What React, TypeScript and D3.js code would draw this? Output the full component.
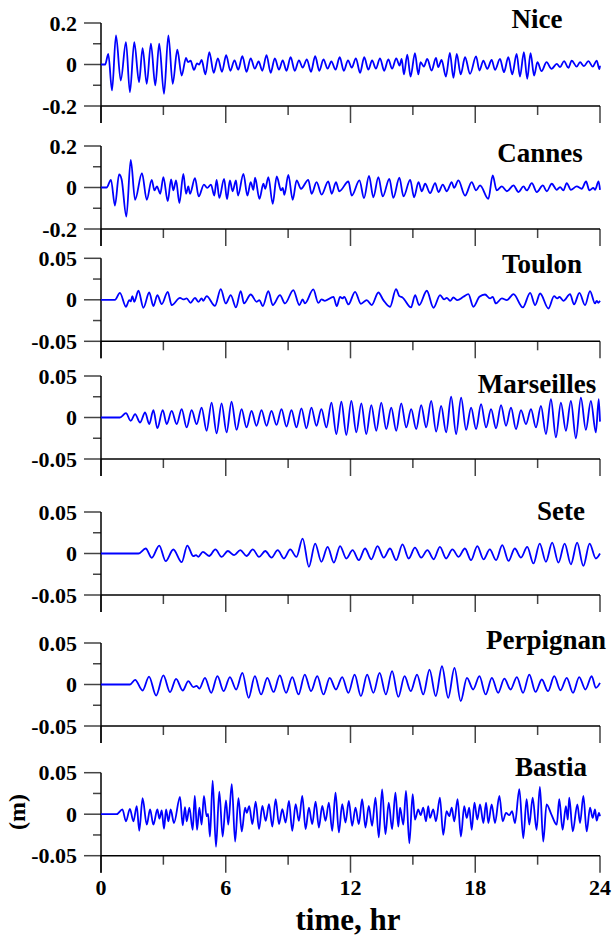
import React from 'react';
import * as d3 from 'd3';

type Pt = [number, number];

const stations = ['Nice', 'Cannes', 'Toulon', 'Marseilles', 'Sete', 'Perpignan', 'Bastia'];
const yLimits = [0.2, 0.2, 0.05, 0.05, 0.05, 0.05, 0.05];
const yTickLabels = [
  ['0.2', '0', '-0.2'],
  ['0.2', '0', '-0.2'],
  ['0.05', '0', '-0.05'],
  ['0.05', '0', '-0.05'],
  ['0.05', '0', '-0.05'],
  ['0.05', '0', '-0.05'],
  ['0.05', '0', '-0.05'],
];
const xMinorTicks = [3, 9, 15, 21];
const xMajorTicks = [0, 6, 12, 18, 24];
const xTickLabels = ['0', '6', '12', '18', '24'];

const niceData: Pt[] = [
  [0, 0], [0.2, 0], [0.35, 0.051], [0.53, -0.125], [0.72, 0.14], [0.95, -0.077], [1.2, 0.108], [1.39, -0.133],
  [1.6, 0.108], [1.83, -0.085], [2.0, 0.079], [2.2, -0.093], [2.4, 0.1], [2.61, -0.101], [2.8, 0.1], [3.03, -0.141],
  [3.24, 0.14], [3.45, -0.093], [3.67, 0.071], [3.88, -0.053], [4.09, 0.032], [4.18, 0.012], [4.31, 0.018], [4.47, -0.026],
  [4.62, 0.005], [4.72, 0.0], [4.84, 0.022], [5.02, -0.048], [5.21, 0.06],
  [5.42, -0.04], [5.62, 0.03], [5.82, -0.035], [6.02, 0.045], [6.22, -0.03], [6.42, 0.02], [6.6, -0.025], [6.8, 0.04],
  [7.0, -0.035], [7.2, 0.03], [7.4, -0.02], [7.58, 0.015], [7.76, -0.03], [7.96, 0.045], [8.16, -0.04], [8.36, 0.03],
  [8.56, -0.025], [8.74, 0.02], [8.92, -0.03], [9.12, 0.035], [9.32, -0.03], [9.52, 0.02], [9.7, -0.015], [9.9, 0.025],
  [10.1, -0.035], [10.3, 0.04], [10.5, -0.03], [10.7, 0.025], [10.9, -0.02], [11.08, 0.015], [11.28, -0.025], [11.48, 0.035],
  [11.68, -0.03], [11.88, 0.02], [12.06, -0.015], [12.26, 0.03], [12.46, -0.04], [12.66, 0.035], [12.86, -0.025], [13.04, 0.02],
  [13.22, -0.02], [13.42, 0.03], [13.62, -0.03], [13.82, 0.025], [14.0, -0.02], [14.2, 0.03], [14.36, -0.005],
  [14.46, 0.027], [14.57, -0.048], [14.73, 0.048], [14.89, -0.058], [15.1, 0.055], [15.26, -0.048], [15.37, 0.011], [15.53, -0.01],
  [15.69, 0.027], [15.9, -0.029], [16.11, 0.032], [16.22, -0.013], [16.38, 0.022], [16.59, -0.058], [16.78, 0.056], [16.95, -0.064],
  [17.11, 0.051], [17.3, -0.048], [17.51, 0.035], [17.75, -0.045], [18.04, 0.039], [18.2, -0.029], [18.39, 0.019], [18.58, -0.021],
  [18.79, 0.022], [18.95, -0.026], [19.19, 0.027], [19.38, -0.037], [19.59, 0.035], [19.78, -0.048], [19.99, 0.051], [20.15, -0.058],
  [20.34, 0.059], [20.5, -0.069], [20.66, 0.055], [20.83, -0.053], [20.99, 0.011], [21.19, -0.032], [21.43, 0.011], [21.67, -0.021],
  [21.92, 0.003], [22.08, -0.013], [22.27, 0.016], [22.48, -0.016], [22.64, 0.019], [22.88, -0.01], [23.04, 0.011], [23.23, -0.008],
  [23.44, 0.016], [23.65, -0.01], [23.84, 0.019], [23.97, -0.022], [24.0, -0.005],
];

const cannesData: Pt[] = [
  [0, 0], [0.27, 0], [0.48, 0.037], [0.67, -0.087], [0.87, 0.063], [0.99, 0.04], [1.22, -0.14], [1.43, 0.133],
  [1.64, -0.059], [1.97, 0.069], [2.2, -0.059], [2.44, 0.037], [2.57, -0.014], [2.69, 0.005], [2.85, -0.03], [3.0, 0.05],
  [3.21, -0.066], [3.37, 0.039], [3.48, -0.014], [3.61, 0.034], [3.77, -0.075], [3.96, 0.066], [4.09, -0.03], [4.2, 0.005],
  [4.28, -0.03], [4.52, 0.045], [4.7, -0.043], [4.95, 0.014], [5.11, -0.002], [5.29, 0.014], [5.45, -0.039], [5.56, 0.037],
  [5.69, -0.05], [5.92, 0.042], [6.06, -0.056], [6.2, 0.034], [6.33, -0.018], [6.49, 0.034], [6.59, -0.039], [6.85, 0.066],
  [7.04, -0.039], [7.2, 0.026], [7.33, -0.011], [7.41, 0.047], [7.62, -0.055], [7.81, 0.018], [7.9, -0.006], [8.05, 0.05],
  [8.26, -0.079], [8.45, 0.053], [8.66, -0.014], [8.74, -0.002], [8.82, -0.035], [9.01, 0.061], [9.22, -0.059], [9.41, 0.034],
  [9.62, -0.006], [9.97, 0.037], [10.13, -0.03], [10.37, 0.026], [10.61, -0.034], [10.93, 0.03], [11.1, -0.03], [11.3, 0.026],
  [11.46, -0.018], [11.9, 0.029], [12.06, -0.039], [12.43, 0.034], [12.65, -0.051], [12.89, 0.056], [13.1, -0.047], [13.34, 0.05],
  [13.55, -0.043], [13.87, 0.042], [14.06, -0.05], [14.35, 0.047], [14.55, -0.043], [14.87, 0.037], [15.06, -0.047], [15.27, 0.026],
  [15.43, -0.018], [15.59, 0.018], [15.83, -0.027], [16.07, 0.021], [16.23, -0.022], [16.44, 0.014], [16.63, -0.018], [16.87, 0.026],
  [16.98, -0.002], [17.19, 0.034], [17.51, -0.039], [17.83, 0.026], [18.04, -0.014], [18.23, 0.01], [18.63, -0.055], [18.84, 0.058],
  [19.03, -0.014], [19.28, 0.005], [19.52, -0.018], [19.84, 0.01], [20.08, -0.022], [20.32, 0.005], [20.48, -0.014], [20.72, 0.021],
  [20.96, -0.022], [21.25, 0.01], [21.44, -0.018], [21.68, 0.018], [21.92, -0.011], [22.08, 0.002], [22.24, -0.014], [22.4, 0.021],
  [22.6, -0.011], [22.88, 0.005], [23.12, -0.006], [23.33, 0.029], [23.49, -0.014], [23.68, -0.002], [23.76, -0.011], [23.93, 0.029],
  [24.0, -0.011],
];

const toulonData: Pt[] = [
  [0, 0], [0.67, 0], [0.91, 0.0084], [1.2, -0.0084], [1.36, -0.0004], [1.43, -0.002], [1.51, 0.0044], [1.6, -0.0024],
  [1.8, 0.0109], [2.04, -0.0096], [2.32, 0.0088], [2.52, -0.0076], [2.71, 0.0056], [2.92, -0.0052], [3.21, 0.0096], [3.4, -0.0064],
  [3.8, 0.0024], [3.96, 0.0004], [4.12, 0.0016], [4.31, -0.0036], [4.52, 0.0024], [4.68, -0.0024], [4.84, 0.0016], [4.92, -0.0012],
  [5.08, 0.0044], [5.48, -0.0072], [5.76, 0.0129], [6.0, -0.0044], [6.24, 0.0056], [6.49, -0.0092], [6.72, 0.0105], [6.88, -0.0044],
  [7.2, 0.0064], [7.49, -0.0024], [7.62, -0.0004], [7.78, -0.0076], [8.05, 0.0105], [8.26, -0.0064], [8.61, 0.0056], [8.85, -0.0044],
  [9.25, 0.0117], [9.54, -0.0064], [9.7, 0.0004], [9.81, -0.0044], [10.21, 0.0125], [10.45, -0.0036], [10.61, 0.0004], [10.77, -0.0012],
  [11.18, 0.0036], [11.34, -0.0076], [11.5, 0.0036], [11.61, 0.0016], [11.7, 0.0036], [11.9, -0.0056], [12.22, 0.0096], [12.5, -0.0048],
  [12.78, -0.0004], [13.02, -0.0064], [13.34, 0.0088], [13.58, -0.0004], [13.9, -0.0084], [14.19, 0.0129], [14.35, 0.0044], [14.5, 0.0028],
  [14.91, -0.0092], [15.11, 0.0056], [15.3, -0.0064], [15.67, 0.0109], [15.99, -0.0096], [16.31, 0.0056], [16.5, 0.0004], [16.63, 0.0024],
  [16.79, -0.0012], [16.95, 0.0028], [17.14, -0.0004], [17.43, 0.0036], [17.67, 0.0068], [17.91, -0.0084], [18.2, 0.0036], [18.47, 0.0064],
  [18.71, 0.0016], [18.84, 0.0036], [18.99, -0.0044], [19.28, 0.0016], [19.52, -0.0004], [19.84, 0.0068], [20.29, -0.0092], [20.64, 0.0084],
  [20.88, -0.0064], [21.12, 0.0076], [21.52, -0.0105], [21.79, 0.0044], [21.95, 0.0016], [22.05, 0.0036], [22.24, -0.0012], [22.56, 0.0068],
  [22.75, -0.0056], [23.01, 0.0084], [23.28, -0.0064], [23.52, 0.0105], [23.76, -0.0044], [23.84, -0.0012], [23.92, -0.0036], [24.0, -0.0012],
];

const marseillesData: Pt[] = [
  [0, 0], [0.91, 0], [1.2, 0.0052], [1.43, -0.004], [1.64, 0.004], [1.88, -0.006], [2.12, 0.006], [2.32, -0.008],
  [2.52, 0.0088], [2.71, -0.0129], [2.97, 0.0088], [3.16, -0.008], [3.4, 0.008], [3.64, -0.008], [3.88, 0.01], [4.12, -0.012],
  [4.36, 0.0088], [4.6, -0.008], [4.84, 0.012], [5.08, -0.016], [5.32, 0.018], [5.56, -0.019], [5.8, 0.017], [6.04, -0.018],
  [6.28, 0.019], [6.52, -0.015], [6.76, 0.01], [7.0, -0.012], [7.24, 0.008], [7.48, -0.01], [7.72, 0.009], [7.96, -0.01],
  [8.2, 0.008], [8.44, -0.009], [8.68, 0.01], [8.92, -0.011], [9.16, 0.009], [9.4, -0.012], [9.64, 0.011], [9.88, -0.013],
  [10.12, 0.012], [10.36, -0.01], [10.6, 0.01], [10.84, -0.012], [11.08, 0.018], [11.32, -0.02], [11.56, 0.019], [11.8, -0.021],
  [12.04, 0.02], [12.28, -0.018], [12.52, 0.017], [12.76, -0.02], [13.0, 0.015], [13.24, -0.016], [13.48, 0.018], [13.72, -0.014],
  [13.96, 0.012], [14.2, -0.016], [14.44, 0.017], [14.68, -0.012], [14.92, 0.01], [15.16, -0.014], [15.4, 0.015], [15.64, -0.012],
  [15.88, 0.02], [16.12, -0.017], [16.36, 0.014], [16.6, -0.018], [16.84, 0.025], [17.08, -0.02], [17.32, 0.024], [17.56, -0.015],
  [17.8, 0.012], [18.04, -0.014], [18.28, 0.016], [18.52, -0.012], [18.76, 0.01], [19.0, -0.013], [19.24, 0.015], [19.48, -0.01],
  [19.72, 0.012], [19.96, -0.014], [20.2, 0.009], [20.44, -0.008], [20.68, 0.01], [20.92, -0.012], [21.16, 0.014], [21.4, -0.02],
  [21.64, 0.022], [21.88, -0.024], [22.12, 0.018], [22.36, -0.016], [22.6, 0.02], [22.84, -0.025], [23.08, 0.024], [23.32, -0.015],
  [23.56, 0.02], [23.8, -0.018], [23.94, 0.022], [24.0, -0.005],
];

const seteData: Pt[] = [
  [0, 0], [1.8, 0], [2.15, 0.006], [2.44, -0.0052], [2.8, 0.0096], [3.11, -0.0092], [3.48, 0.0048], [3.88, -0.0105],
  [4.15, 0.0096], [4.44, -0.0032], [4.57, -0.002], [4.68, -0.004], [4.9, 0.002], [5.2, -0.003], [5.5, 0.005], [5.8, -0.004],
  [6.1, 0.003], [6.4, -0.002], [6.7, 0.004], [7.0, -0.003], [7.3, 0.005], [7.6, -0.004], [7.9, 0.003], [8.2, -0.005],
  [8.5, 0.004], [8.8, -0.006], [9.1, 0.005], [9.4, -0.004], [9.7, 0.018], [10.0, -0.016], [10.3, 0.012], [10.6, -0.01],
  [10.9, 0.008], [11.2, -0.011], [11.5, 0.009], [11.8, -0.006], [12.1, 0.004], [12.4, -0.008], [12.7, 0.006], [13.0, -0.007],
  [13.3, 0.009], [13.6, -0.005], [13.9, 0.006], [14.2, -0.008], [14.5, 0.011], [14.8, -0.006], [15.1, 0.007], [15.4, -0.005],
  [15.7, 0.004], [16.0, -0.007], [16.3, 0.008], [16.6, -0.006], [16.9, 0.005], [17.2, -0.004], [17.5, 0.006], [17.8, -0.008],
  [18.1, 0.009], [18.4, -0.007], [18.7, 0.005], [19.0, -0.008], [19.3, 0.01], [19.6, -0.009], [19.9, 0.006], [20.2, -0.005],
  [20.5, 0.008], [20.8, -0.012], [21.1, 0.012], [21.4, -0.01], [21.7, 0.013], [22.0, -0.011], [22.3, 0.012], [22.6, -0.013],
  [22.9, 0.013], [23.2, -0.015], [23.5, 0.012], [23.8, -0.006], [24.0, 0.0],
];

const perpignanData: Pt[] = [
  [0, 0], [1.39, 0], [1.64, 0.0056], [2.0, -0.0072], [2.31, 0.0096], [2.65, -0.0133], [3.0, 0.0109], [3.32, -0.0092],
  [3.61, 0.0068], [3.93, -0.0072], [4.2, 0.004], [4.44, -0.0032], [4.6, -0.0016], [4.73, -0.005], [5.0, 0.008], [5.3, -0.01],
  [5.6, 0.01], [5.9, -0.008], [6.2, 0.009], [6.5, -0.006], [6.8, 0.014], [7.1, -0.016], [7.4, 0.01], [7.7, -0.012],
  [8.0, 0.008], [8.3, -0.009], [8.6, 0.011], [8.9, -0.01], [9.2, 0.009], [9.5, -0.012], [9.8, 0.012], [10.1, -0.008],
  [10.4, 0.01], [10.7, -0.012], [11.0, 0.008], [11.3, -0.006], [11.6, 0.009], [11.9, -0.01], [12.2, 0.012], [12.5, -0.014],
  [12.8, 0.012], [13.1, -0.01], [13.4, 0.014], [13.7, -0.012], [14.0, 0.016], [14.3, -0.015], [14.6, 0.01], [14.9, -0.008],
  [15.2, 0.012], [15.5, -0.012], [15.8, 0.018], [16.1, -0.014], [16.4, 0.022], [16.7, -0.016], [17.0, 0.02], [17.3, -0.02],
  [17.6, 0.008], [17.9, -0.006], [18.2, 0.01], [18.5, -0.012], [18.8, 0.008], [19.1, -0.01], [19.4, 0.007], [19.7, -0.006],
  [20.0, 0.009], [20.3, -0.01], [20.6, 0.012], [20.9, -0.009], [21.2, 0.006], [21.5, -0.008], [21.8, 0.01], [22.1, -0.007],
  [22.4, 0.008], [22.7, -0.01], [23.0, 0.009], [23.3, -0.006], [23.6, 0.01], [23.8, -0.004], [24.0, 0.002],
];

const bastiaData: Pt[] = [
  [0, 0], [0.75, 0], [1.03, 0.0057], [1.2, -0.0086], [1.39, 0.0065], [1.56, -0.0086], [1.72, 0.0098], [1.84, -0.02],
  [2.0, 0.0192], [2.2, -0.0126], [2.36, 0.0057], [2.52, -0.0126], [2.71, 0.0057], [2.81, -0.0053], [2.92, 0.0045], [3.03, -0.0175],
  [3.13, 0.0057], [3.24, -0.0086], [3.35, 0.0057], [3.51, -0.0106], [3.8, 0.0208], [3.93, -0.0135], [4.04, 0.0086], [4.12, -0.0086],
  [4.25, 0.0078], [4.41, -0.0188], [4.51, 0.022], [4.62, -0.0188], [4.73, 0.0078], [4.84, -0.0126], [4.95, 0.022], [5.08, -0.0024],
  [5.15, 0.0004], [5.24, -0.0269], [5.37, 0.0404], [5.53, -0.0392], [5.69, 0.0273], [5.85, -0.0269], [6.01, 0.0167], [6.12, -0.0126],
  [6.29, 0.0363], [6.45, -0.033], [6.61, 0.0192], [6.77, -0.0208], [6.93, 0.0078], [7.01, 0.0016], [7.13, 0.0098],
  [7.28, -0.012], [7.44, 0.015], [7.6, -0.018], [7.76, 0.01], [7.92, -0.008], [8.08, 0.012], [8.24, -0.015], [8.4, 0.018],
  [8.56, -0.012], [8.72, 0.006], [8.88, -0.01], [9.04, 0.016], [9.2, -0.02], [9.36, 0.012], [9.52, -0.008], [9.68, 0.022],
  [9.84, -0.018], [10.0, 0.008], [10.16, -0.012], [10.32, 0.015], [10.48, -0.016], [10.64, 0.01], [10.8, -0.008], [10.96, 0.014],
  [11.12, -0.02], [11.28, 0.026], [11.44, -0.022], [11.6, 0.012], [11.76, -0.01], [11.92, 0.016], [12.08, -0.014], [12.24, 0.008],
  [12.4, -0.012], [12.56, 0.018], [12.72, -0.016], [12.88, 0.01], [13.04, -0.014], [13.2, 0.02], [13.36, -0.028], [13.52, 0.03],
  [13.68, -0.024], [13.84, 0.014], [14.0, -0.018], [14.16, 0.026], [14.3, -0.015],
  [14.38, 0.0078], [14.54, -0.0126], [14.67, 0.0282], [14.83, -0.0351], [14.99, 0.0241], [15.1, -0.0065], [15.26, 0.0057], [15.37, -0.0012],
  [15.5, 0.0078], [15.63, -0.0086], [15.74, 0.0098], [15.82, -0.0045], [15.98, 0.0057], [16.11, -0.0086], [16.3, 0.02], [16.46, -0.0249],
  [16.62, 0.0037], [16.75, -0.0024], [16.87, 0.0078], [16.99, -0.0086], [17.15, 0.018], [17.31, -0.0269], [17.47, 0.0098], [17.59, -0.0045],
  [17.71, 0.0078], [17.83, -0.0188], [17.96, 0.0139], [18.1, -0.0065], [18.23, 0.0118], [18.39, -0.0106], [18.52, 0.0139], [18.63, -0.0106],
  [18.79, 0.0118], [18.95, -0.0106], [19.16, 0.022], [19.32, -0.0086], [19.48, 0.0016], [19.64, -0.0012], [19.77, 0.0037], [19.91, -0.0106],
  [20.12, 0.0302], [20.31, -0.029], [20.47, 0.018], [20.6, -0.0126], [20.76, 0.02], [20.95, -0.0188], [21.11, 0.033], [21.27, -0.033],
  [21.43, 0.0118], [21.65, 0.0005], [21.92, -0.0126], [22.04, 0.018], [22.2, -0.0188], [22.36, 0.0098], [22.45, -0.0065], [22.52, 0.02],
  [22.69, -0.0208], [22.91, 0.0118], [23.04, -0.0106], [23.2, 0.022], [23.36, -0.0208], [23.52, 0.0078], [23.65, -0.0045], [23.76, 0.0057],
  [23.84, -0.0078], [23.95, 0.0016], [24.0, -0.0024],
];

const seriesData: Pt[][] = [niceData, cannesData, toulonData, marseillesData, seteData, perpignanData, bastiaData];

// layout
const W = 613;
const H = 938;
const X0 = 101;
const X1 = 600;
const PANEL_H = 83;
const panelTops = [23, 146, 258.3, 376, 512, 643, 772.7];
const labelPos: [number, number][] = [
  [537, 28.3], [540, 161.7], [542, 273.3], [537, 393], [561, 520], [546, 649], [551, 776],
];
const FONT = "'Liberation Serif', 'Times New Roman', Times, serif";

export default function App() {
  const x = d3.scaleLinear().domain([0, 24]).range([X0, X1]);
  return (
    <svg
      width={W}
      height={H}
      style={{ position: 'absolute', left: 0, top: 0, background: '#fff' }}
      fontFamily={FONT}
      fontWeight="bold"
    >
      {seriesData.map((data, i) => {
        const lim = yLimits[i];
        const top = panelTops[i];
        const bottom = top + PANEL_H;
        const y = d3.scaleLinear().domain([-lim, lim]).range([bottom, top]);
        const line = d3
          .line<Pt>()
          .x((d) => x(d[0]))
          .y((d) => y(d[1]))
          .curve(d3.curveMonotoneX);
        const majorY = [lim, 0, -lim];
        const minorY = [lim / 2, -lim / 2];
        return (
          <g key={stations[i]}>
            {majorY.map((v, k) => (
              <g key={'ym' + k}>
                <line x1={X0 - 17} x2={X0} y1={y(v)} y2={y(v)} stroke="#444" strokeWidth={1.5} />
                <text x={77} y={y(v) + 7.5} fontSize={22} textAnchor="end" fill="#000">
                  {yTickLabels[i][k]}
                </text>
              </g>
            ))}
            {minorY.map((v, k) => (
              <line key={'yn' + k} x1={X0 - 8} x2={X0} y1={y(v)} y2={y(v)} stroke="#444" strokeWidth={1.5} />
            ))}
            {xMinorTicks.map((t) => (
              <line key={'xn' + t} x1={x(t)} x2={x(t)} y1={bottom} y2={bottom + 9} stroke="#444" strokeWidth={1.5} />
            ))}
            {xMajorTicks.map((t) => (
              <line key={'xm' + t} x1={x(t)} x2={x(t)} y1={bottom} y2={bottom + 17} stroke="#444" strokeWidth={1.5} />
            ))}
            <line x1={X0} x2={X0} y1={top} y2={bottom + 17} stroke="#000" strokeWidth={1.5} />
            <line x1={X0} x2={X1} y1={bottom} y2={bottom} stroke="#000" strokeWidth={1.5} />
            <path d={line(data) || ''} fill="none" stroke="#0000ff" strokeWidth={1.8} strokeLinejoin="round" />
            <text x={labelPos[i][0]} y={labelPos[i][1]} fontSize={27} textAnchor="middle" fill="#000">
              {stations[i]}
            </text>
          </g>
        );
      })}
      {xMajorTicks.map((t, k) => (
        <text key={'xl' + t} x={x(t)} y={895} fontSize={22} textAnchor="middle" fill="#000">
          {xTickLabels[k]}
        </text>
      ))}
      <text x={348} y={930} fontSize={31} textAnchor="middle" fill="#000">
        time, hr
      </text>
      <text transform="translate(24.5,812) rotate(-90)" fontSize={24} textAnchor="middle" fill="#000">
        (m)
      </text>
    </svg>
  );
}
